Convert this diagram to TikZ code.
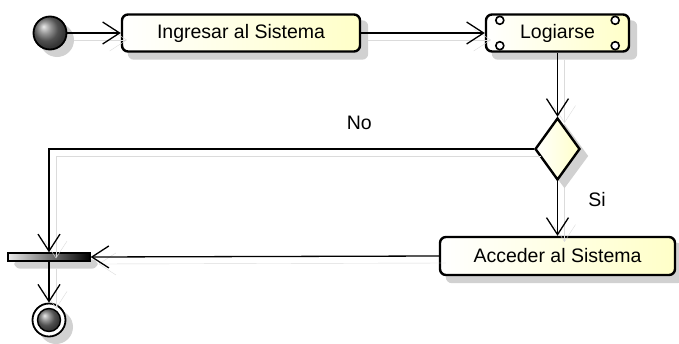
\documentclass[tikz,border=0pt]{standalone}
\usepackage{fontspec}
\setmainfont{Liberation Sans}
\usetikzlibrary{positioning,arrows.meta,shapes.geometric,calc,backgrounds}

\definecolor{actyellow}{RGB}{255,255,200}

\tikzset{
    activity/.style={rectangle, rounded corners=6pt, draw, line width=2.4pt,
        left color=white, right color=actyellow, minimum height=37pt},
    choice/.style={diamond, draw, line width=2.4pt, inner sep=0pt, aspect=0.73,
        minimum width=45pt, minimum height=62pt,
        left color=white, right color=actyellow},
    startstate/.style={circle, draw, line width=1.8pt, minimum size=33pt,
        inner sep=0pt, shading=ball, ball color=black!55},
    endstate/.style={circle, draw, line width=1.8pt, minimum size=33pt,
        inner sep=0pt, fill=white},
    endcore/.style={circle, draw, line width=1.4pt, minimum size=23pt,
        inner sep=0pt, shading=ball, ball color=black!55},
    forkbar/.style={rectangle, draw, line width=1.4pt, minimum width=82pt,
        minimum height=8pt, inner sep=0pt, left color=black!8, right color=black},
    castshadow/.style={fill=black!18},
    flow/.style={line width=1.3pt,
        -{Straight Barb[length=17pt, width=22pt, line width=1.3pt]},
        preaction={draw=black!14, transform canvas={shift={(7pt,-7pt)}}}},
    pinhole/.style={draw, line width=1.6pt, fill=white}
}

\begin{document}
\begin{tikzpicture}[x=1pt, y=-1pt, node distance=2cm, on grid,
    font=\fontsize{19.5}{23}\selectfont]

    \useasboundingbox (0,0) rectangle (679,343);

    \node[startstate] (init) at (50,33) {};
    \node[activity, minimum width=238pt] (ingresar) [right=191pt of init] {Ingresar al Sistema};
    \node[activity, minimum width=143pt] (logiarse) [right=316.5pt of ingresar] {Logiarse};
    \node[choice] (decision) [below=116pt of logiarse] {};
    \node[activity, minimum width=235pt, minimum height=38pt] (acceder) [below=107pt of decision] {Acceder al Sistema};
    \node[forkbar] (bar) at (49,257) {};
    \node[endstate] (final) [below=63pt of bar] {};
    \node[endcore] (final core) at (final) {};

    % small circles in the corners of the sub-activity
    \foreach \dx/\dy/\c in {15/7/north west, -15/7/north east, 15/-7/south west, -15/-7/south east}
        \draw[pinhole] ($(logiarse.\c)+(\dx,\dy)$) circle (4pt);

    % shadows behind the nodes
    \begin{scope}[on background layer]
        \foreach \n in {ingresar, logiarse, acceder, bar}
            \fill[castshadow, rounded corners=6pt] ([shift={(7pt,-7pt)}]\n.north west) rectangle ([shift={(7pt,-7pt)}]\n.south east);
        \foreach \n in {init, final}
            \fill[castshadow] ([shift={(7pt,-7pt)}]\n.center) circle (17pt);
        \fill[castshadow] ([shift={(7pt,-7pt)}]decision.north) -- ([shift={(7pt,-7pt)}]decision.east)
            -- ([shift={(7pt,-7pt)}]decision.south) -- ([shift={(7pt,-7pt)}]decision.west) -- cycle;
    \end{scope}

    \draw[flow] (init) -- (ingresar);
    \draw[flow] (ingresar) -- (logiarse);
    \draw[flow] (logiarse) -- (decision);
    \draw[flow] (decision.west) -| node[pos=0.18, above=15pt] (no) {No} (bar.north);
    \draw[flow] (decision.south) -- node[pos=0.33, right=27pt] (si) {Si} (acceder.north);
    \draw[flow] (acceder.west) -- (bar.east);
    \draw[flow] (bar.south) -- (final);

\end{tikzpicture}
\end{document}
